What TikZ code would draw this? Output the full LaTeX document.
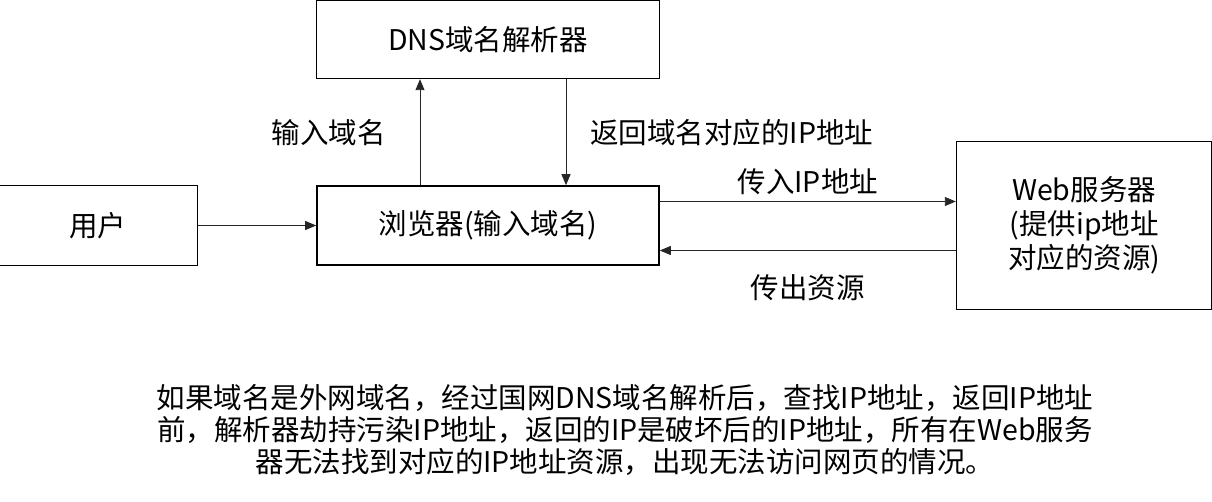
\documentclass[tikz,border=0pt]{standalone}
\usepackage{fontspec}
\setmainfont{Noto Sans CJK SC}
\usetikzlibrary{arrows.meta, positioning}

\begin{document}
\begin{tikzpicture}[
      x=1pt, y=1pt,
      box/.style={draw=black, line width=1.6pt, align=center, inner sep=0pt,
      font=\fontsize{28.5}{34}\selectfont},
      arrow/.style={-{Triangle[length=11pt, width=9pt]}, line width=0.9pt, draw=black!85},
      tag/.style={font=\fontsize{28.5}{32}\selectfont, inner sep=0pt}
    ]
    \useasboundingbox (0,0) rectangle (1212,-502);
    \node[box, minimum width=342pt, minimum height=79pt] (browser) at (488,-225.5) {浏览器(输入域名)};
    \node[box, minimum width=343pt, minimum height=78pt, above=106pt of browser] (dns) {DNS域名解析器};
    \node[box, minimum width=199pt, minimum height=80pt, left=118pt of browser] (user) {用户};
    \node[box, minimum width=255pt, minimum height=168pt, right=296pt of browser] (web) {Web服务器\\(提供ip地址\\对应的资源)};
    \node[tag, align=center] (note) at (625,-430) {如果域名是外网域名，经过国网DNS域名解析后，查找IP地址，返回IP地址\\
    前，解析器劫持污染IP地址，返回的IP是破坏后的IP地址，所有在Web服务\\
    器无法找到对应的IP地址资源，出现无法访问网页的情况。};

    \draw[arrow] (user.east) -- (browser.west);
    \draw[arrow] ([xshift=-68pt]browser.north) -- ([xshift=-68pt]dns.south)
      node[tag, midway, left=34pt] {输入域名};
    \draw[arrow] ([xshift=78pt]dns.south) -- ([xshift=78pt]browser.north)
      node[tag, midway, right=24pt] {返回域名对应的IP地址};
    \draw[arrow] ([yshift=24pt]browser.east) -- ([yshift=24pt]web.west)
      node[tag, midway, above=6pt] {传入IP地址};
    \draw[arrow] ([yshift=-25pt]web.west) -- ([yshift=-25pt]browser.east)
      node[tag, midway, below=24pt] {传出资源};
  \end{tikzpicture}
\end{document}
